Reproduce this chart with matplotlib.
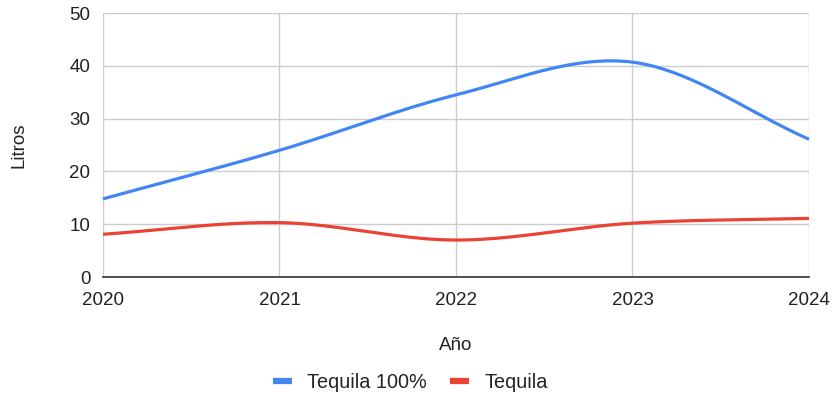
import numpy as np
import matplotlib.pyplot as plt
from matplotlib.lines import Line2D

plt.rcParams['font.family'] = ['Liberation Sans', 'DejaVu Sans']

years = [2020, 2021, 2022, 2023, 2024]
tequila_100 = [14.8, 24.0, 34.5, 40.7, 26.1]
tequila = [8.1, 10.3, 7.0, 10.2, 11.1]

blue = '#4285F4'
red = '#EA4335'


def smooth(x, y, n=40):
    # cubic Hermite curve through the points, Catmull-Rom tangents
    x = np.asarray(x, float)
    y = np.asarray(y, float)
    m = np.zeros_like(y)
    m[1:-1] = (y[2:] - y[:-2]) / (x[2:] - x[:-2])
    m[0] = (y[1] - y[0]) / (x[1] - x[0])
    m[-1] = (y[-1] - y[-2]) / (x[-1] - x[-2])
    xs, ys = [], []
    for i in range(len(x) - 1):
        h = x[i + 1] - x[i]
        t = np.linspace(0, 1, n, endpoint=(i == len(x) - 2))
        h00 = 2 * t**3 - 3 * t**2 + 1
        h10 = t**3 - 2 * t**2 + t
        h01 = -2 * t**3 + 3 * t**2
        h11 = t**3 - t**2
        xs.append(x[i] + t * h)
        ys.append(h00 * y[i] + h10 * h * m[i] + h01 * y[i + 1] + h11 * h * m[i + 1])
    return np.concatenate(xs), np.concatenate(ys)


fig = plt.figure(figsize=(8.34, 3.96), dpi=100)
ax = fig.add_axes([0.1235, 0.3005, 0.8465, 0.6665])

bx, by = smooth(years, tequila_100)
rx, ry = smooth(years, tequila)
ax.plot(bx, by, color=blue, lw=2.3, solid_capstyle='butt', clip_on=False, zorder=3)
ax.plot(rx, ry, color=red, lw=2.3, solid_capstyle='butt', clip_on=False, zorder=3)

ax.set_xlim(2020, 2024)
ax.set_ylim(0, 50)
ax.set_xticks(years)
ax.set_xticklabels([str(y) for y in years])
ax.set_yticks(range(0, 51, 10))
ax.grid(True, color='#cccccc', lw=1)
ax.set_axisbelow(True)
for side in ['top', 'right', 'left']:
    ax.spines[side].set_visible(False)
ax.spines['bottom'].set_color('#333333')
ax.spines['bottom'].set_linewidth(1.2)
ax.spines['bottom'].set_zorder(4)
ax.tick_params(length=0, labelsize=13.5, colors='#222222', pad=9)
ax.tick_params(axis='x', pad=11)

ax.set_xlabel('Año', fontsize=13.5, color='#222222', labelpad=20)
ax.set_ylabel('Litros', fontsize=13.5, color='#222222', labelpad=30)

handles = [Line2D([], [], color=blue, lw=4.5, solid_capstyle='butt'),
           Line2D([], [], color=red, lw=4.5, solid_capstyle='butt')]
fig.legend(handles, ['Tequila 100%', 'Tequila'], loc='center',
           bbox_to_anchor=(0.492, 0.034), ncol=2, frameon=False,
           fontsize=14.3, handlelength=0.95, handletextpad=0.75, columnspacing=1.2,
           labelcolor='#222222')

fig.savefig('out.png', dpi=100)
